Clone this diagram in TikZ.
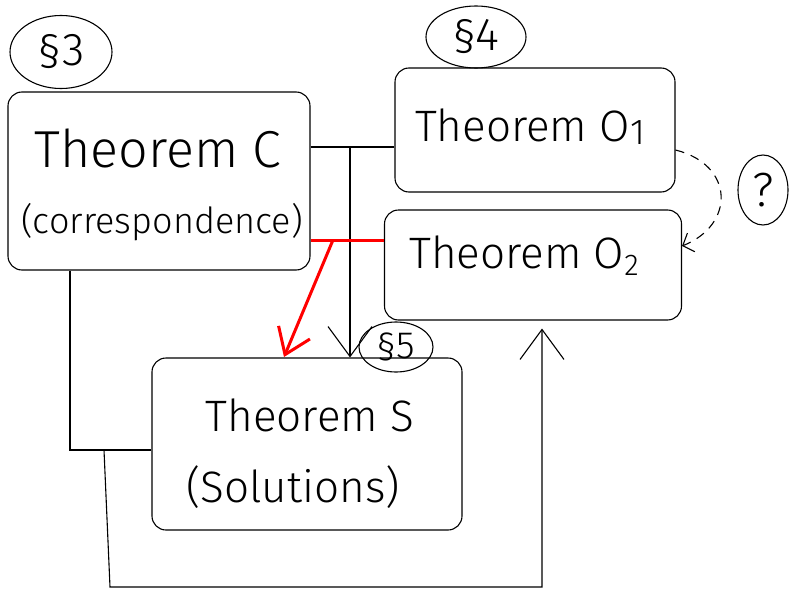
\documentclass[tikz,border=0pt]{standalone}
\usepackage{fontspec}
\newfontfamily\hand{Fira Sans Light}
\usetikzlibrary{shapes.geometric,arrows.meta}
\begin{document}
\begin{tikzpicture}[x=1pt,y=-1pt,
  box/.style={draw, rounded corners=14pt, line width=1.1pt, inner sep=0pt},
  sec/.style={draw, ellipse, line width=1.1pt, inner sep=0pt, font=\hand\fontsize{46}{46}\selectfont},
  big/.style={font=\hand\fontsize{52}{52}\selectfont, inner sep=0pt},
  mid/.style={font=\hand\fontsize{44}{44}\selectfont, inner sep=0pt},
  small/.style={font=\hand\fontsize{36}{36}\selectfont, inner sep=0pt},
  conn/.style={line width=1.1pt},
  bigtip/.style={-{Straight Barb[length=30pt,width=44pt]}},
  redtip/.style={-{Straight Barb[length=24pt,width=34pt]}},
  smalltip/.style={-{Straight Barb[length=9pt,width=20pt]}},
]
\useasboundingbox (0,0) rectangle (790,597);

% boxes
\node[box, minimum width=302pt, minimum height=178pt] (C) at (159,181) {};
\node[box, minimum width=280pt, minimum height=124pt] (O1) at (535,130) {};
\node[box, minimum width=297pt, minimum height=110pt] (O2) at (533,265) {};
\node[box, minimum width=310pt, minimum height=172pt] (S) at (307,444) {};

% texts
\node[big] (Ct1) at (158,148) {Theorem C};
\node[small] (Ct2) at (162,222) {(correspondence)};
\node[mid] (O1t) at (530,127) {Theorem O\raisebox{-3pt}{\fontsize{36}{36}\selectfont 1}};
\node[mid] (O2t) at (524,256) {Theorem O\raisebox{-7pt}{\fontsize{30}{30}\selectfont 2}};
\node[mid] (St1) at (310,415) {Theorem S};
\node[mid] (St2) at (293,487) {(Solutions)};

% section labels
\node[sec, minimum width=102pt, minimum height=73pt] (s3) at (61,52) {§3};
\node[sec, minimum width=100pt, minimum height=62pt] (s4) at (476,37) {§4};
\node[sec, minimum width=74pt, minimum height=50pt, font=\hand\fontsize{38}{38}\selectfont] (s5) at (396,347) {§5};
\node[sec, minimum width=50pt, minimum height=70pt, font=\hand\fontsize{48}{48}\selectfont] (q) at (763,190) {?};

% connectors
\coordinate (j1) at (350,147);
\draw[conn] (C.east |- j1) -- (O1.west |- j1);
\draw[conn, bigtip] (j1) -- (S.north -| j1);

\coordinate (r1) at (333,240);
\coordinate (rE) at (284,357);
\draw[red, line width=3pt] (C.east |- r1) -- (O2.west |- r1);
\draw[red, line width=3pt, redtip] (r1) -- (rE);

\coordinate (d1) at (0,150);
\coordinate (d2) at (0,246);
\draw[conn, dashed, dash pattern=on 9pt off 7pt, smalltip] (O1.east |- d1) .. controls (735,165) and (735,225) .. (O2.east |- d2);

\coordinate (l1) at (70,450);
\draw[conn] (C.south -| l1) |- (S.west |- l1);

\coordinate (b1) at (104,450);
\coordinate (b2) at (110,587);
\coordinate (b3) at (542,587);
\draw[conn, bigtip, shorten >=8pt] (b1) -- (b2) -- (b3) -- (O2.south -| b3);
\end{tikzpicture}
\end{document}
